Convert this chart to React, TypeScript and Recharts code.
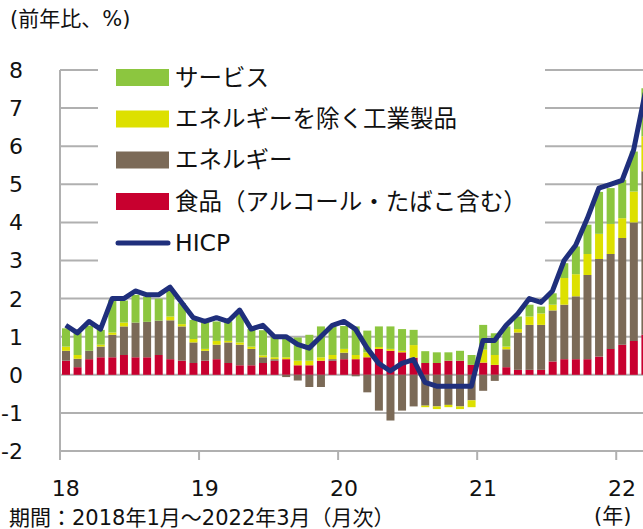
import { ComposedChart, Bar, Line, XAxis, YAxis, CartesianGrid } from "recharts";

// 2018/1 - 2022/3, monthly
const years = ["18", "19", "20", "21", "22"];
const monthNums = ["1", "2", "3", "4", "5", "6", "7", "8", "9", "10", "11", "12"];
const months = years.flatMap((y) => monthNums.map((m) => `${y}/${m}`)).slice(0, 51);

// contributions (% pt)
const food = [
  0.37, 0.2, 0.41, 0.46, 0.46, 0.52, 0.46, 0.46, 0.52, 0.41, 0.37, 0.31,
  0.37, 0.41, 0.31, 0.25, 0.25, 0.31, 0.37, 0.41, 0.25, 0.25, 0.37, 0.37,
  0.41, 0.41, 0.46, 0.68, 0.63, 0.59, 0.45, 0.31, 0.31, 0.37, 0.37, 0.26,
  0.32, 0.26, 0.2, 0.13, 0.13, 0.13, 0.35, 0.41, 0.41, 0.41, 0.48, 0.68,
  0.79, 0.89, 1.05,
];
const energy = [
  0.26, 0.22, 0.22, 0.28, 0.59, 0.75, 0.91, 0.93, 0.9, 1.02, 0.9, 0.54,
  0.26, 0.38, 0.54, 0.54, 0.43, 0.15, 0.04, -0.06, -0.15, -0.32, -0.32, 0.04,
  0.17, -0.04, -0.46, -0.94, -1.2, -0.94, -0.83, -0.81, -0.83, -0.79, -0.83, -0.67,
  -0.42, -0.16, 0.47, 0.98, 1.18, 1.18, 1.34, 1.43, 1.65, 2.21, 2.56, 2.49,
  2.8, 3.11, 4.29,
];
const neig = [
  0.11, 0.1, 0.0, 0.05, 0.06, 0.1, 0.0, 0.0, 0.0, 0.1, 0.06, 0.09,
  0.05, 0.1, 0.04, 0.06, 0.06, 0.05, 0.05, 0.05, 0.12, 0.12, 0.09, 0.11,
  0.1, 0.11, 0.13, 0.05, 0.05, 0.04, 0.33, -0.04, -0.07, -0.06, -0.07, -0.18,
  0.34, 0.26, 0.07, 0.09, 0.22, 0.3, 0.15, 0.7, 0.58, 0.55, 0.66, 0.79,
  0.52, 0.81, 0.92,
];
const services = [
  0.48, 0.59, 0.66, 0.39, 0.86, 0.58, 0.73, 0.66, 0.58, 0.7, 0.55, 0.5,
  0.7, 0.51, 0.51, 0.75, 0.46, 0.66, 0.54, 0.5, 0.61, 0.68, 0.81, 0.75,
  0.6, 0.75, 0.57, 0.54, 0.59, 0.57, 0.4, 0.31, 0.28, 0.22, 0.26, 0.26,
  0.65, 0.57, 0.53, 0.33, 0.31, 0.18, 0.3, 0.39, 0.73, 0.77, 1.1, 0.94,
  1.01, 1.05, 1.26,
];
const hicp = [
  1.3, 1.1, 1.4, 1.2, 2.0, 2.0, 2.2, 2.1, 2.1, 2.3, 1.9, 1.5,
  1.4, 1.5, 1.4, 1.7, 1.2, 1.3, 1.0, 1.0, 0.8, 0.7, 1.0, 1.3,
  1.4, 1.2, 0.7, 0.3, 0.1, 0.3, 0.4, -0.2, -0.3, -0.3, -0.3, -0.3,
  0.9, 0.9, 1.3, 1.6, 2.0, 1.9, 2.2, 3.0, 3.4, 4.1, 4.9, 5.0,
  5.1, 5.9, 7.4,
];
const yTicks = [-2, -1, 0, 1, 2, 3, 4, 5, 6, 7, 8];

const data = months.map((m, i) => ({
  month: m,
  food: food[i],
  energy: energy[i],
  neig: neig[i],
  services: services[i],
  hicp: hicp[i],
}));

const COLORS = {
  services: "#8CC63F",
  neig: "#DDE000",
  energy: "#7B6A57",
  food: "#C8002F",
  hicp: "#1F2F7C",
};

const legendItems = [
  { key: "services", label: "サービス" },
  { key: "neig", label: "エネルギーを除く工業製品" },
  { key: "energy", label: "エネルギー" },
  { key: "food", label: "食品（アルコール・たばこ含む）" },
];

const FONT = "'DejaVu Sans', 'Noto Sans CJK JP', sans-serif";
const GRID = "#B0B0B0";
const CHART_W = 661;
const MARGIN_R = 10;
const Y_AXIS_W = 60;
const HALF_BAND = (CHART_W - Y_AXIS_W - MARGIN_R) / months.length / 2;

const YTick = ({ y, payload }: any) => (
  <text x={23} y={y} dy="0.36em" textAnchor="end" fontSize={22} fontFamily={FONT} fill="#111">
    {payload.value}
  </text>
);

const XTick = ({ x, y, payload }: any) => (
  <g>
    <line x1={x - HALF_BAND} x2={x - HALF_BAND} y1={y} y2={y + 9} stroke={GRID} strokeWidth={2} />
    <text x={x} y={y + 45} textAnchor="middle" fontSize={22} fontFamily={FONT} fill="#111">
      {String(payload.value).split("/")[0]}
    </text>
  </g>
);

function LegendBox() {
  const rowY = [77.5, 119, 160, 201.5, 243];
  return (
    <svg
      width={447}
      height={225}
      style={{ position: "absolute", left: 98, top: 50, background: "#fff" }}
    >
      {legendItems.map((it, i) => (
        <g key={it.key}>
          <rect x={18} y={rowY[i] - 50 - 8.5} width={53} height={17} fill={(COLORS as any)[it.key]} />
          <text x={77} y={rowY[i] - 50 + 8} fontSize={23.5} fontFamily={FONT} fill="#111">
            {it.label}
          </text>
        </g>
      ))}
      <line
        x1={20}
        x2={70}
        y1={rowY[4] - 50}
        y2={rowY[4] - 50}
        stroke={COLORS.hicp}
        strokeWidth={5}
        strokeLinecap="round"
      />
      <text x={77} y={rowY[4] - 50 + 8} fontSize={23.5} fontFamily={FONT} fill="#111">
        HICP
      </text>
    </svg>
  );
}

export default function App() {
  return (
    <div
      style={{
        position: "absolute",
        left: 0,
        top: 0,
        width: 643,
        height: 529,
        overflow: "hidden",
        background: "#fff",
        fontFamily: FONT,
      }}
    >
      <ComposedChart
        width={CHART_W}
        height={529}
        data={data}
        stackOffset="sign"
        margin={{ top: 70, right: MARGIN_R, left: 0, bottom: 38 }}
      >
        <CartesianGrid vertical={false} stroke={GRID} strokeWidth={2} />
        <XAxis
          dataKey="month"
          interval={11}
          height={40}
          tickSize={0}
          tickMargin={0}
          tickLine={false}
          axisLine={{ stroke: GRID, strokeWidth: 2 }}
          tick={<XTick />}
        />
        <YAxis
          width={Y_AXIS_W}
          domain={[-2, 8]}
          ticks={yTicks}
          interval={0}
          tickLine={false}
          axisLine={{ stroke: GRID, strokeWidth: 2 }}
          tick={<YTick />}
        />
        <Bar dataKey="food" stackId="a" fill={COLORS.food} barSize={8} isAnimationActive={false} />
        <Bar dataKey="energy" stackId="a" fill={COLORS.energy} barSize={8} isAnimationActive={false} />
        <Bar dataKey="neig" stackId="a" fill={COLORS.neig} barSize={8} isAnimationActive={false} />
        <Bar dataKey="services" stackId="a" fill={COLORS.services} barSize={8} isAnimationActive={false} />
        <Line
          dataKey="hicp"
          type="linear"
          stroke={COLORS.hicp}
          strokeWidth={5}
          strokeLinejoin="round"
          dot={false}
          activeDot={false}
          isAnimationActive={false}
        />
      </ComposedChart>
      <LegendBox />
      <div style={{ position: "absolute", left: 10, top: 4, fontSize: 21, color: "#111", lineHeight: "30px" }}>
        (前年比、%)
      </div>
      <div style={{ position: "absolute", left: 9, top: 503, fontSize: 21, color: "#111", lineHeight: "30px", whiteSpace: "nowrap" }}>
        期間：2018年1月～2022年3月（月次）
      </div>
      <div style={{ position: "absolute", left: 594, top: 501, fontSize: 21, color: "#111", lineHeight: "30px" }}>
        (年)
      </div>
    </div>
  );
}
